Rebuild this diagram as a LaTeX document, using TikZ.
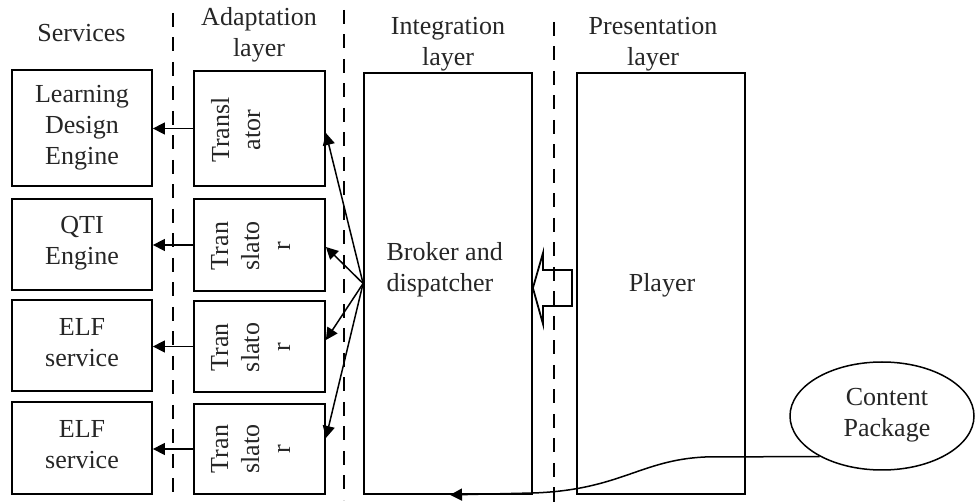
\documentclass[tikz,border=0pt]{standalone}
\usepackage{fontspec}
\setmainfont{Liberation Serif}
\usetikzlibrary{arrows.meta,shapes.geometric}
\begin{document}
\begin{tikzpicture}[x=1pt,y=-1pt,
  every node/.style={font=\fontsize{26}{31}\selectfont, text=black!85},
  box/.style={draw, line width=1.8pt, inner sep=0pt},
  svc/.style={box, minimum width=140pt},
  trn/.style={box, minimum width=131pt},
  layerbox/.style={box, minimum width=168pt, minimum height=421pt},
  lbl/.style={align=center, anchor=base},
  rotlbl/.style={align=center, anchor=base, rotate=90},
  sep/.style={line width=1.6pt, dash pattern=on 14pt off 10.5pt},
  link/.style={line width=1.5pt, -{Triangle[length=12pt, width=12pt]}},
]
\useasboundingbox (0,0) rectangle (975,502);
\fill[white] (0,0) rectangle (975,502);

% layer separators
\draw[sep] (173,13) -- (173,496);
\draw[sep] (344,10) -- (344,500);
\draw[sep] (554,22) -- (554,502);

% column headings (base anchor = baseline of the last line)
\node[lbl] (hsvc) at (81.5,42) {Services};
\node[lbl] (hadp) at (259,57) {Adaptation\\layer};
\node[lbl] (hint) at (448,66) {Integration\\layer};
\node[lbl] (hpre) at (653,66) {Presentation\\layer};

% services
\node[svc, minimum height=116pt] (s1) at (82,128) {};
\node[svc, minimum height=91pt]  (s2) at (82,244.5) {};
\node[svc, minimum height=91pt]  (s3) at (82,345.5) {};
\node[svc, minimum height=92pt]  (s4) at (82,448) {};
\node[lbl] (s1t) at (82,165) {Learning\\Design\\Engine};
\node[lbl] (s2t) at (82,265) {QTI\\Engine};
\node[lbl] (s3t) at (82,367) {ELF\\service};
\node[lbl] (s4t) at (82,468) {ELF\\service};

% translators
\node[trn, minimum height=115pt] (t1) at (259.5,128.5) {};
\node[trn, minimum height=92pt]  (t2) at (259.5,245) {};
\node[trn, minimum height=91pt]  (t3) at (259.5,346.5) {};
\node[trn, minimum height=90pt]  (t4) at (259.5,449) {};
\node[rotlbl] (t1t) at (260,130) {Transl\\ator};
\node[rotlbl] (t2t) at (290,246) {Tran\\slato\\r};
\node[rotlbl] (t3t) at (290,347.5) {Tran\\slato\\r};
\node[rotlbl] (t4t) at (290,449) {Tran\\slato\\r};

% integration and presentation
\node[layerbox] (broker) at (448,283.5) {};
\node[layerbox] (player) at (661,283.5) {};
\node[align=left, anchor=base west] (brokert) at (383,292) {Broker and\\dispatcher};
\node[lbl] (playert) at (662,292) {Player};

% content package
\node[draw, ellipse, line width=1.5pt, inner sep=0pt,
      minimum width=184pt, minimum height=108pt] (cp) at (882,416) {};
\node[lbl] (cpt) at (887,437) {Content\\Package};

% translators to services
\foreach \i in {1,...,4}
  \draw[link] (t\i.west) -- (t\i.west -| s\i.east);

% broker fans out to translators
\draw[link] (broker.west) -- ([yshift=-4.5pt]t1.east);
\draw[link] (broker.west) -- ([yshift=-2pt]t2.east);
\draw[link] (broker.west) -- ([yshift=6.5pt]t3.east);
\draw[link] (broker.west) -- ([yshift=11pt]t4.east);

% hollow block arrow from player to broker
\draw[line width=1.8pt, line join=miter]
  (572,270) -- (543,270) -- (543,253) -- (broker.east |- 0,288)
  -- (543,324) -- (543,306) -- (572,306) -- cycle;

% content package delivered to the broker
\draw[link] (cp.213) -- (705,457) .. controls (640,460) and (620,490) .. (533,493)
  -- (broker.south -| 450,0);
\end{tikzpicture}
\end{document}
